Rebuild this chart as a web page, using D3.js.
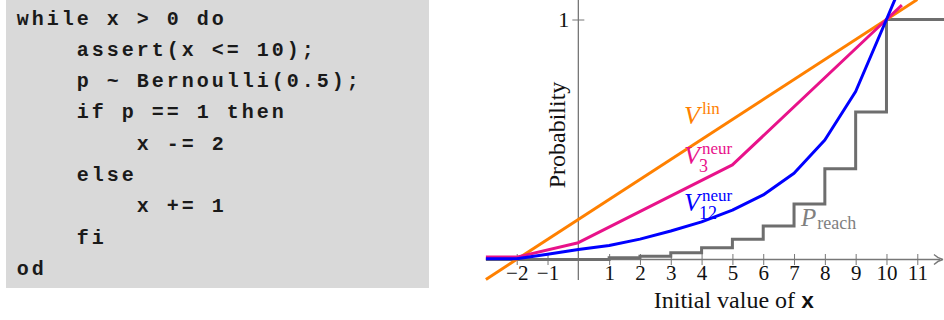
<!DOCTYPE html>
<html>
<head>
<meta charset="utf-8">
<script src="https://cdn.jsdelivr.net/npm/d3@7"></script>
<style>
  body { margin: 0; background: #fff; }
  svg { display: block; }
</style>
</head>
<body>
<svg id="chart" width="944" height="320"></svg>
<script>
// program listing shown on the left
const codeLines = [
  "while x > 0 do",
  "    assert(x <= 10);",
  "    p ~ Bernoulli(0.5);",
  "    if p == 1 then",
  "        x -= 2",
  "    else",
  "        x += 1",
  "    fi",
  "od"
];

// x ticks of the plot
const xTicks = [-2, -1, 1, 2, 3, 4, 5, 6, 7, 8, 9, 10, 11];
const yTicks = [1];

// V^lin (straight line)
const linX = [-3, 11];
const linY = [-0.083, 1.083];

// V_3^neur
const n3X = [-3, -2, 0, 5, 10, 10.5];
const n3Y = [0.01, 0.01, 0.07, 0.394, 1.0, 1.06];

// V_12^neur
const n12X = [-3, -2, -1, 0, 1, 2, 3, 4, 5, 6, 7, 8, 9, 10, 10.28];
const n12Y = [0.003, 0.003, 0.022, 0.042, 0.058, 0.085, 0.119, 0.157, 0.206, 0.269, 0.359, 0.498, 0.70, 1.0, 1.085];

// P_reach (step function)
const reachX = [-3, 1, 2, 3, 4, 5, 6, 7, 8, 9, 10, 12];
const reachY = [0, 0.007, 0.014, 0.028, 0.049, 0.084, 0.14, 0.231, 0.378, 0.615, 1, 1];

const svg = d3.select("#chart");

// ---- code box ----
svg.append("rect")
    .attr("x", 6).attr("y", -2)
    .attr("width", 423).attr("height", 290)
    .attr("fill", "#d9d9d9");

svg.append("g").selectAll("text")
  .data(codeLines)
  .enter().append("text")
    .attr("x", d => 16.7 + (d.length - d.trimStart().length) * 15)
    .attr("y", (d, i) => 24.5 + i * 31.3)
    .attr("font-family", "Liberation Mono, monospace")
    .attr("font-weight", "bold")
    .attr("font-size", 20)
    .attr("letter-spacing", 3)
    .attr("fill", "#1a1a1a")
    .text(d => d.trimStart());

// ---- plot ----
const x = d3.scaleLinear().domain([-3, 12]).range([485.9, 948.1]);
const y = d3.scaleLinear().domain([0, 1]).range([259.5, 19.5]);

const axisColor = "#777";
const serif = "Liberation Serif, serif";

// x axis
const xAxis = svg.append("g")
    .attr("transform", "translate(0," + y(0) + ")")
    .call(d3.axisBottom(x).tickValues(xTicks).tickSize(5.5).tickPadding(0)
      .tickFormat(d => d < 0 ? "\u2212" + (-d) : d));
xAxis.select(".domain").remove();
xAxis.selectAll(".tick line").attr("y1", -5.5).attr("stroke", axisColor);
xAxis.selectAll(".tick text")
    .attr("font-family", serif).attr("font-size", 21).attr("fill", "#111");

// y axis
const yAxis = svg.append("g")
    .attr("transform", "translate(" + x(0) + ",0)")
    .call(d3.axisLeft(y).tickValues(yTicks).tickSize(6).tickPadding(3)
      .tickFormat(d => d));
yAxis.select(".domain").remove();
yAxis.selectAll(".tick line").attr("x1", 6).attr("stroke", axisColor);
yAxis.selectAll(".tick text")
    .attr("font-family", serif).attr("font-size", 22).attr("fill", "#111");

svg.append("line")
    .attr("x1", x(-3)).attr("x2", 940)
    .attr("y1", y(0)).attr("y2", y(0))
    .attr("stroke", axisColor).attr("stroke-width", 1.3);
svg.append("path")
    .attr("d", "M934,254.5 Q938,258.5 943,259.5 Q938,260.5 934,264.5")
    .attr("fill", "none").attr("stroke", axisColor).attr("stroke-width", 1.3);
svg.append("line")
    .attr("x1", x(0)).attr("x2", x(0))
    .attr("y1", y(-0.085)).attr("y2", -2)
    .attr("stroke", axisColor).attr("stroke-width", 1.3);

// series
const line = d3.line().x(d => x(d[0])).y(d => y(d[1]));
const step = d3.line().x(d => x(d[0])).y(d => y(d[1])).curve(d3.curveStepAfter);

svg.append("path")
    .attr("d", step(d3.zip(reachX, reachY)))
    .attr("fill", "none").attr("stroke", "#6e6e6e").attr("stroke-width", 3);

const series = [
  {xs: linX, ys: linY, color: "#ff8000"},
  {xs: n3X, ys: n3Y, color: "#e8128a"},
  {xs: n12X, ys: n12Y, color: "#0000ff"}
];
svg.selectAll(".series")
  .data(series)
  .enter().append("path")
    .attr("class", "series")
    .attr("d", d => line(d3.zip(d.xs, d.ys)))
    .attr("fill", "none")
    .attr("stroke", d => d.color)
    .attr("stroke-width", 3)
    .attr("stroke-linejoin", "round");

// labels
function mathLabel(px, py, color, sup, sub) {
  const t = svg.append("text")
      .attr("x", px).attr("y", py)
      .attr("font-family", serif).attr("fill", color);
  t.append("tspan").attr("font-size", 26).attr("font-style", "italic").text("V");
  if (sup) {
    t.append("tspan").attr("font-size", 17).attr("dx", 2).attr("dy", -10).text(sup);
  }
  if (sub) {
    const sx = px + 15;
    t.append("tspan").attr("x", sx).attr("font-size", 18).attr("dy", sup ? 18 : 8).text(sub);
  }
}
mathLabel(684, 124, "#ff8000", "lin", null);
mathLabel(684, 164, "#e8128a", "neur", "3");
mathLabel(684, 211, "#0000ff", "neur", "12");

const pr = svg.append("text")
    .attr("x", 801).attr("y", 226)
    .attr("font-family", serif).attr("fill", "#808080");
pr.append("tspan").attr("font-size", 25).attr("font-style", "italic").text("P");
pr.append("tspan").attr("font-size", 18).attr("dx", 1).attr("dy", 3).text("reach");

// axis titles
svg.append("text")
    .attr("transform", "translate(565,135) rotate(-90)")
    .attr("text-anchor", "middle")
    .attr("font-family", serif).attr("font-size", 24).attr("fill", "#111")
    .text("Probability");

const xt = svg.append("text")
    .attr("x", 734).attr("y", 308)
    .attr("text-anchor", "middle")
    .attr("font-family", serif).attr("font-size", 24).attr("fill", "#111");
xt.append("tspan").text("Initial value of ");
xt.append("tspan").attr("font-family", "Liberation Mono, monospace")
    .attr("font-weight", "bold").attr("font-size", 22).text("x");
</script>
</body>
</html>
